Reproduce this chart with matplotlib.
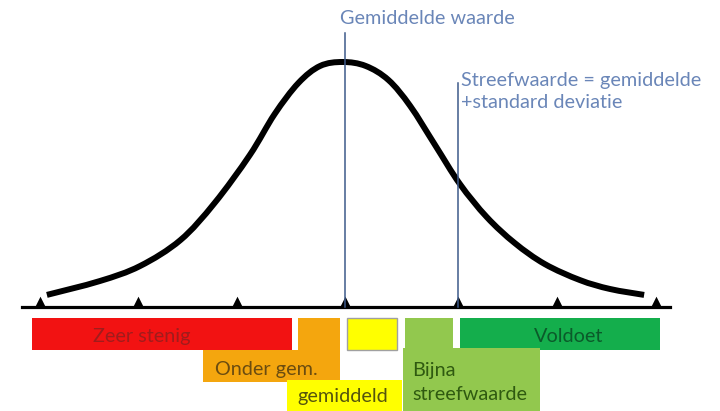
import matplotlib.pyplot as plt
from matplotlib.patches import Rectangle, PathPatch
from matplotlib.path import Path

# bell curve (x in standard deviations, height relative to peak)
curve_sd = [-2.88, -2.37, -1.98, -1.59, -1.26, -0.92, -0.68, -0.45, -0.24, -0.02,
            0.20, 0.42, 0.63, 0.87, 1.11, 1.37, 1.64, 1.93, 2.27, 2.56, 2.89]
curve_height = [0.049, 0.105, 0.166, 0.271, 0.421, 0.615, 0.781, 0.907, 0.976, 0.992,
                0.976, 0.919, 0.814, 0.656, 0.498, 0.364, 0.259, 0.174, 0.109, 0.073, 0.049]

tick_sd = [-2.95, -2.0, -1.04, 0, 1.09, 2.05, 3.0]
mean_sd = 0
target_sd = 1.09

# score bands under the axis
band_labels = ['Zeer stenig', 'Onder gem.', 'gemiddeld', 'Bijna\nstreefwaarde', 'Voldoet']
band_lo = [-3.02, -0.45, 0.02, 0.58, 1.11]
band_hi = [-0.51, -0.05, 0.50, 1.04, 3.04]
# label boxes that hang below the strip (orange, yellow, light green)
label_lo = [None, -1.37, -0.56, 0.56, None]
label_hi = [None, -0.05, 0.55, 1.88, None]

band_colors = ['#f21212', '#f4a60e', '#ffff00', '#92c84e', '#14ae4c']
text_colors = ['#a01c1c', '#6b4c10', '#55550e', '#2f5a10', '#0b5a2a']
line_col = '#3d5a8a'
note_col = '#6a86b8'

plt.rcParams['font.family'] = ['Lato', 'DejaVu Sans']
fs = 14.3

fig = plt.figure(figsize=(7.2, 4.11), dpi=100)
ax = fig.add_axes([0, 0, 1, 1])
ax.set_xlim(-3.333, 3.623)
ax.set_ylim(-0.421, 1.243)
ax.axis('off')

# curve: cubic bezier segments (catmull-rom style) through the read points
pts = list(zip(curve_sd, curve_height))
n = len(pts)
verts = [pts[0]]
codes = [Path.MOVETO]
for i in range(n - 1):
    p0 = pts[max(i - 1, 0)]
    p1 = pts[i]
    p2 = pts[i + 1]
    p3 = pts[min(i + 2, n - 1)]
    c1 = (p1[0] + (p2[0] - p0[0]) / 6, p1[1] + (p2[1] - p0[1]) / 6)
    c2 = (p2[0] - (p3[0] - p1[0]) / 6, p2[1] - (p3[1] - p1[1]) / 6)
    verts += [c1, c2, p2]
    codes += [Path.CURVE4] * 3
ax.add_patch(PathPatch(Path(verts, codes), fill=False, edgecolor='black', lw=4.3,
                       capstyle='butt', joinstyle='round', zorder=3))

# axis with little spikes as ticks
ax.plot([-3.12, 3.14], [0, 0], color='black', lw=2.3, zorder=4)
ax.scatter(tick_sd, [0.022] * len(tick_sd), marker='^', s=70, color='black',
           linewidths=0, zorder=4)

# mean and target lines
ax.plot([mean_sd, mean_sd], [0, 1.109], color=line_col, lw=1.1, zorder=5)
ax.plot([target_sd, target_sd], [0, 0.907], color=line_col, lw=1.1, zorder=5)
ax.text(mean_sd - 0.05, 1.170, 'Gemiddelde waarde', color=note_col, fontsize=fs,
        ha='left', va='center')
ax.text(target_sd + 0.03, 0.919, 'Streefwaarde = gemiddelde', color=note_col, fontsize=fs,
        ha='left', va='center')
ax.text(target_sd + 0.03, 0.826, '+standard deviatie', color=note_col, fontsize=fs,
        ha='left', va='center')

# strip of bands
strip_top, strip_bot = -0.0445, -0.174
for i in range(len(band_labels)):
    edge = '#a0a0a0' if i == 2 else 'none'
    ax.add_patch(Rectangle((band_lo[i], strip_bot), band_hi[i] - band_lo[i],
                           strip_top - strip_bot, facecolor=band_colors[i],
                           edgecolor=edge, lw=1.0, zorder=2))

# hanging label boxes
box_rows = [None, (-0.304, -0.174), (-0.421, -0.296), (-0.421, -0.166), None]
for i in range(len(band_labels)):
    if label_lo[i] is None:
        continue
    y0, y1 = box_rows[i]
    ax.add_patch(Rectangle((label_lo[i], y0), label_hi[i] - label_lo[i], y1 - y0,
                           facecolor=band_colors[i], edgecolor='none', zorder=2))
    if i == 1:
        ax.add_patch(Rectangle((band_lo[i], y0), band_hi[i] - band_lo[i], strip_bot - y0 + 0.01,
                               facecolor=band_colors[i], edgecolor='none', zorder=2))
    if i == 3:
        ax.add_patch(Rectangle((band_lo[i], y1 - 0.01), band_hi[i] - band_lo[i], 0.02,
                               facecolor=band_colors[i], edgecolor='none', zorder=2))

ax.text(-1.96, -0.121, band_labels[0], color=text_colors[0], fontsize=fs, ha='center', va='center', zorder=6)
ax.text(-1.26, -0.255, band_labels[1], color=text_colors[1], fontsize=fs, ha='left', va='center', zorder=6)
ax.text(-0.46, -0.364, band_labels[2], color=text_colors[2], fontsize=fs, ha='left', va='center', zorder=6)
ax.text(0.65, -0.306, band_labels[3], color=text_colors[3], fontsize=fs, ha='left', va='center',
        linespacing=1.45, zorder=6)
ax.text(2.16, -0.121, band_labels[4], color=text_colors[4], fontsize=fs, ha='center', va='center', zorder=6)

fig.savefig('out.png', dpi=100)
